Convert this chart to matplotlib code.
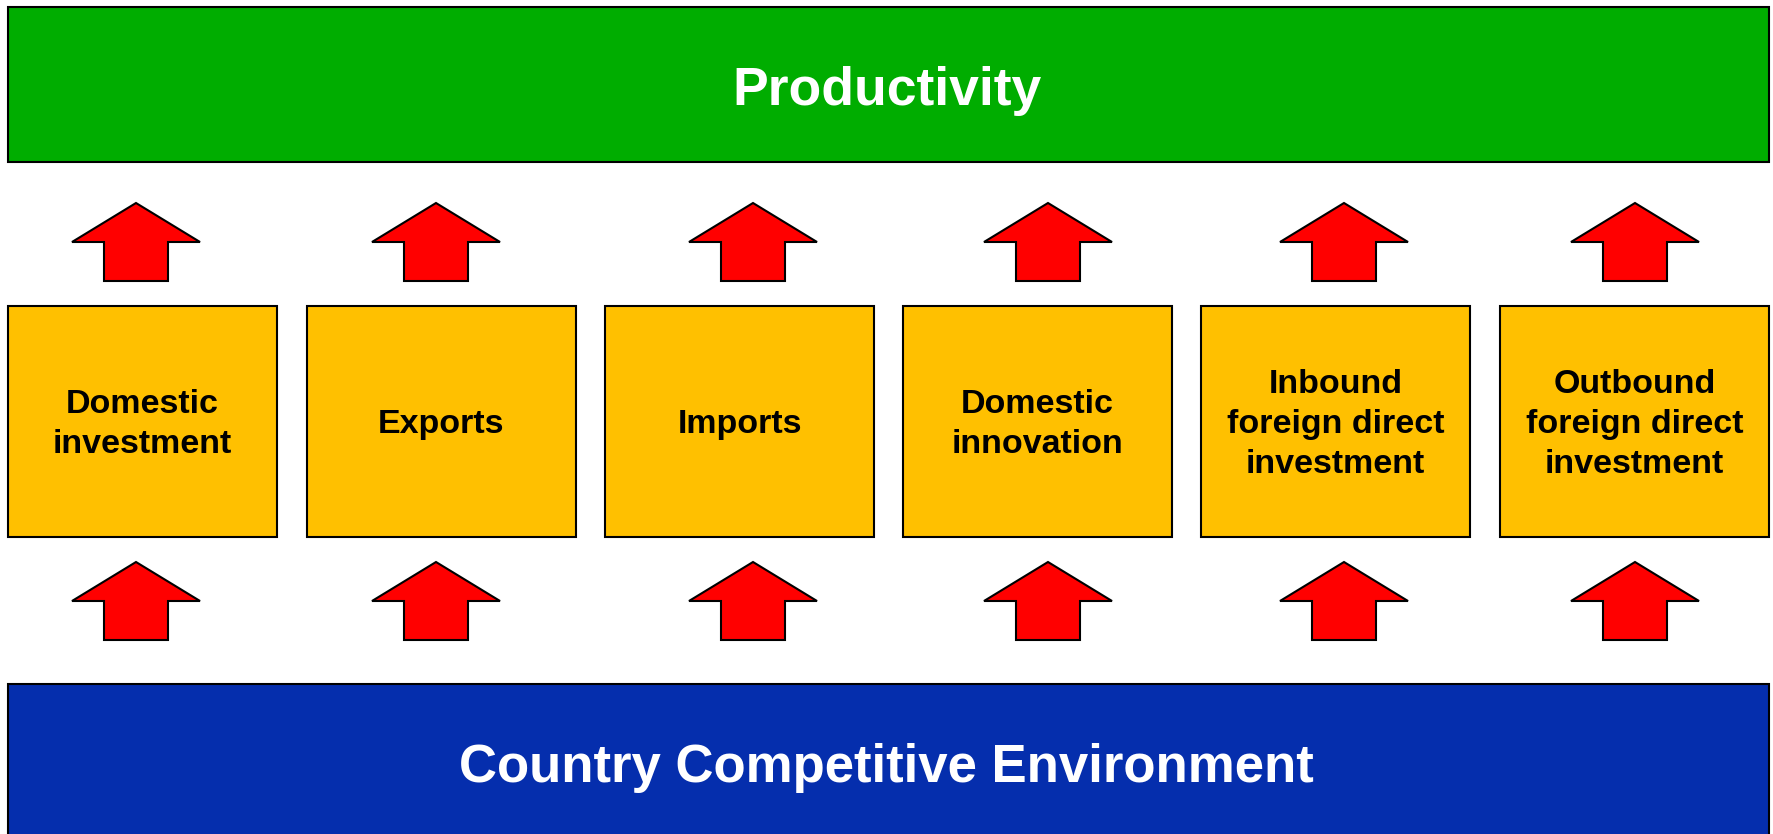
import matplotlib
matplotlib.use("Agg")
import matplotlib.pyplot as plt
from matplotlib.patches import Rectangle, Polygon

# canvas size in pixels (dpi 100)
W, H = 1773, 834

top_label = "Productivity"
bottom_label = "Country Competitive Environment"
box_labels = [
    "Domestic\ninvestment",
    "Exports",
    "Imports",
    "Domestic\ninnovation",
    "Inbound\nforeign direct\ninvestment",
    "Outbound\nforeign direct\ninvestment",
]
box_lefts = [8, 307, 605, 903, 1201, 1500]
arrow_centers = [136, 436, 753, 1048, 1344, 1635]

GREEN = "#00AD00"
BLUE = "#052EAD"
YELLOW = "#FFC000"
RED = "#FF0000"
EDGE = dict(edgecolor="black", linewidth=1.5)

fig = plt.figure(figsize=(W / 100, H / 100), dpi=100)
ax = fig.add_axes([0, 0, 1, 1])
ax.set_xlim(0, W)
ax.set_ylim(H, 0)
ax.axis("off")

font = ["Liberation Sans", "DejaVu Sans"]

# top and bottom bands
ax.add_patch(Rectangle((8, 7), 1761, 155, facecolor=GREEN, **EDGE))
ax.text(W / 2, 91, top_label, color="white", fontsize=38.5, fontweight="bold",
        family=font, ha="center", va="center")

ax.add_patch(Rectangle((8, 684), 1761, 170, facecolor=BLUE, **EDGE))
ax.text(W / 2, 768, bottom_label, color="white", fontsize=38, fontweight="bold",
        family=font, ha="center", va="center")

# middle boxes
box_w, box_top, box_bot = 269, 306, 537
for left, label in zip(box_lefts, box_labels):
    ax.add_patch(Rectangle((left, box_top), box_w, box_bot - box_top,
                           facecolor=YELLOW, **EDGE))
    ax.text(left + box_w / 2, (box_top + box_bot) / 2 + 3, label, fontsize=24.5,
            fontweight="bold", family=font, ha="center", va="center",
            linespacing=1.39)


def up_arrow(cx, tip):
    # block arrow: head 128 wide, shaft 64 wide
    pts = [(cx, tip), (cx + 64, tip + 39), (cx + 32, tip + 39), (cx + 32, tip + 78),
           (cx - 32, tip + 78), (cx - 32, tip + 39), (cx - 64, tip + 39)]
    ax.add_patch(Polygon(pts, closed=True, facecolor=RED, joinstyle="miter", **EDGE))


for cx in arrow_centers:
    up_arrow(cx, 203)
    up_arrow(cx, 562)

fig.savefig("out.png", dpi=100)
